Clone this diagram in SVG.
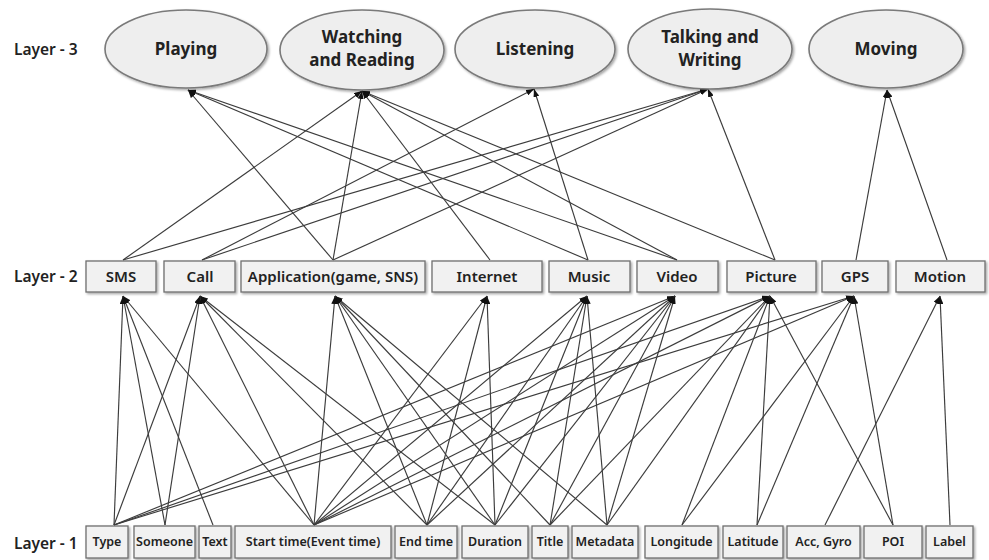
<svg xmlns="http://www.w3.org/2000/svg" width="989" height="560" viewBox="0 0 989 560">
  <style>
    .bg { fill: #ffffff; }
    .ell { fill: #eeeeee; stroke: #7a7a7a; stroke-width: 1.6; filter: url(#shadow); }
    .box { fill: #f1f1f1; stroke: #6f6f6f; stroke-width: 1.3; filter: url(#shadow); }
    .t3 { font-family: "Noto Sans", "Open Sans", sans-serif; font-weight: 700; font-size: 17px; fill: #222; text-anchor: middle; }
    .t2 { font-family: "Noto Sans", "Open Sans", sans-serif; font-weight: 600; font-size: 15px; fill: #222; text-anchor: middle; }
    .t1 { font-family: "Noto Sans", "Open Sans", sans-serif; font-weight: 600; font-size: 12.5px; fill: #222; text-anchor: middle; }
    .lay { font-family: "Noto Sans", "Open Sans", sans-serif; font-weight: 600; font-size: 15.5px; fill: #222; }
    .edge { stroke: #3c3c3c; stroke-width: 1.15; fill: none; marker-end: url(#arrow); }
  </style>
  <defs>
    <filter id="shadow" x="-10%" y="-10%" width="130%" height="140%">
      <feDropShadow dx="1.5" dy="1.5" stdDeviation="1" flood-color="#000" flood-opacity="0.35"/>
    </filter>
    <marker id="arrow" viewBox="0 0 8 6" refX="8" refY="3" markerWidth="8" markerHeight="6" markerUnits="userSpaceOnUse" orient="auto">
      <path d="M0,0 L8,3 L0,6 z" fill="#111"/>
    </marker>
  </defs>

  <rect class="bg" x="0" y="0" width="989" height="560"/>

  <!-- layer captions -->
  <text class="lay" x="14" y="55">Layer - 3</text>
  <text class="lay" x="14" y="282">Layer - 2</text>
  <text class="lay" x="14" y="549">Layer - 1</text>

  <!-- connectors: lower layer to upper layer, arrowhead at the upper node -->
  <g id="connectors">
    <!-- layer 2 -> layer 3 -->
    <line class="edge" x1="333" y1="260" x2="188" y2="90"/>
    <line class="edge" x1="588" y1="260" x2="188" y2="90"/>
    <line class="edge" x1="677" y1="260" x2="188" y2="90"/>
    <line class="edge" x1="123" y1="260" x2="362" y2="91"/>
    <line class="edge" x1="333" y1="260" x2="362" y2="91"/>
    <line class="edge" x1="490" y1="260" x2="362" y2="91"/>
    <line class="edge" x1="677" y1="260" x2="362" y2="91"/>
    <line class="edge" x1="775" y1="260" x2="362" y2="91"/>
    <line class="edge" x1="202" y1="260" x2="534" y2="89"/>
    <line class="edge" x1="588" y1="260" x2="534" y2="89"/>
    <line class="edge" x1="123" y1="260" x2="708" y2="89"/>
    <line class="edge" x1="202" y1="260" x2="708" y2="89"/>
    <line class="edge" x1="333" y1="260" x2="708" y2="89"/>
    <line class="edge" x1="775" y1="260" x2="708" y2="89"/>
    <line class="edge" x1="856" y1="260" x2="887" y2="90"/>
    <line class="edge" x1="947" y1="260" x2="887" y2="90"/>

    <!-- layer 1 -> layer 2 : Type -->
    <line class="edge" x1="114" y1="525" x2="123" y2="296"/>
    <line class="edge" x1="114" y1="525" x2="200" y2="296"/>
    <line class="edge" x1="114" y1="525" x2="675" y2="296"/>
    <line class="edge" x1="114" y1="525" x2="770" y2="296"/>
    <line class="edge" x1="114" y1="525" x2="854" y2="296"/>
    <!-- Someone -->
    <line class="edge" x1="165" y1="525" x2="123" y2="296"/>
    <line class="edge" x1="165" y1="525" x2="200" y2="296"/>
    <!-- Text -->
    <line class="edge" x1="213" y1="525" x2="123" y2="296"/>
    <!-- Start time -->
    <line class="edge" x1="314" y1="525" x2="123" y2="296"/>
    <line class="edge" x1="314" y1="525" x2="200" y2="296"/>
    <line class="edge" x1="314" y1="525" x2="335" y2="296"/>
    <line class="edge" x1="314" y1="525" x2="487" y2="296"/>
    <line class="edge" x1="314" y1="525" x2="587" y2="296"/>
    <line class="edge" x1="314" y1="525" x2="675" y2="296"/>
    <line class="edge" x1="314" y1="525" x2="770" y2="296"/>
    <line class="edge" x1="314" y1="525" x2="854" y2="296"/>
    <!-- End time -->
    <line class="edge" x1="427" y1="525" x2="200" y2="296"/>
    <line class="edge" x1="427" y1="525" x2="335" y2="296"/>
    <line class="edge" x1="427" y1="525" x2="487" y2="296"/>
    <line class="edge" x1="427" y1="525" x2="587" y2="296"/>
    <line class="edge" x1="427" y1="525" x2="675" y2="296"/>
    <!-- Duration -->
    <line class="edge" x1="495" y1="525" x2="200" y2="296"/>
    <line class="edge" x1="495" y1="525" x2="335" y2="296"/>
    <line class="edge" x1="495" y1="525" x2="487" y2="296"/>
    <line class="edge" x1="495" y1="525" x2="587" y2="296"/>
    <line class="edge" x1="495" y1="525" x2="675" y2="296"/>
    <!-- Title -->
    <line class="edge" x1="550" y1="525" x2="335" y2="296"/>
    <line class="edge" x1="550" y1="525" x2="587" y2="296"/>
    <line class="edge" x1="550" y1="525" x2="675" y2="296"/>
    <line class="edge" x1="550" y1="525" x2="770" y2="296"/>
    <!-- Metadata -->
    <line class="edge" x1="607" y1="525" x2="335" y2="296"/>
    <line class="edge" x1="607" y1="525" x2="587" y2="296"/>
    <line class="edge" x1="607" y1="525" x2="675" y2="296"/>
    <line class="edge" x1="607" y1="525" x2="770" y2="296"/>
    <!-- Longitude / Latitude -->
    <line class="edge" x1="682" y1="525" x2="770" y2="296"/>
    <line class="edge" x1="682" y1="525" x2="854" y2="296"/>
    <line class="edge" x1="757" y1="525" x2="770" y2="296"/>
    <line class="edge" x1="757" y1="525" x2="854" y2="296"/>
    <!-- Acc, Gyro / POI / Label -->
    <line class="edge" x1="825" y1="525" x2="940" y2="296"/>
    <line class="edge" x1="893" y1="525" x2="770" y2="296"/>
    <line class="edge" x1="893" y1="525" x2="854" y2="296"/>
    <line class="edge" x1="950" y1="525" x2="940" y2="296"/>
  </g>

  <!-- layer 3 -->
  <g id="n-playing"><ellipse class="ell" cx="186" cy="49" rx="81" ry="39"/><text class="t3" x="186" y="55">Playing</text></g>
  <g id="n-watching"><ellipse class="ell" cx="362" cy="50" rx="82" ry="40"/><text class="t3" x="362" y="43">Watching</text><text class="t3" x="362" y="66">and Reading</text></g>
  <g id="n-listening"><ellipse class="ell" cx="535" cy="49" rx="80" ry="39"/><text class="t3" x="535" y="55">Listening</text></g>
  <g id="n-talking"><ellipse class="ell" cx="710" cy="49" rx="82" ry="40"/><text class="t3" x="710" y="43">Talking and</text><text class="t3" x="710" y="66">Writing</text></g>
  <g id="n-moving"><ellipse class="ell" cx="886" cy="49" rx="77" ry="39"/><text class="t3" x="886" y="55">Moving</text></g>

  <!-- layer 2 -->
  <g id="n-sms"><rect class="box" x="86" y="261" width="70" height="31"/><text class="t2" x="121" y="282">SMS</text></g>
  <g id="n-call"><rect class="box" x="164" y="261" width="71" height="31"/><text class="t2" x="200" y="282">Call</text></g>
  <g id="n-app"><rect class="box" x="241" y="261" width="184" height="31"/><text class="t2" x="333" y="282">Application(game, SNS)</text></g>
  <g id="n-internet"><rect class="box" x="432" y="261" width="110" height="31"/><text class="t2" x="487" y="282">Internet</text></g>
  <g id="n-music"><rect class="box" x="549" y="261" width="81" height="31"/><text class="t2" x="589" y="282">Music</text></g>
  <g id="n-video"><rect class="box" x="637" y="261" width="81" height="31"/><text class="t2" x="677" y="282">Video</text></g>
  <g id="n-picture"><rect class="box" x="727" y="261" width="89" height="31"/><text class="t2" x="771" y="282">Picture</text></g>
  <g id="n-gps"><rect class="box" x="822" y="261" width="66" height="31"/><text class="t2" x="855" y="282">GPS</text></g>
  <g id="n-motion"><rect class="box" x="896" y="261" width="89" height="31"/><text class="t2" x="940" y="282">Motion</text></g>

  <!-- layer 1 -->
  <g id="n-type"><rect class="box" x="86" y="526" width="42" height="32"/><text class="t1" x="107" y="546">Type</text></g>
  <g id="n-someone"><rect class="box" x="134" y="526" width="61" height="32"/><text class="t1" x="164.5" y="546">Someone</text></g>
  <g id="n-text"><rect class="box" x="199" y="526" width="32" height="32"/><text class="t1" x="215" y="546">Text</text></g>
  <g id="n-start"><rect class="box" x="235" y="526" width="156" height="32"/><text class="t1" x="313" y="546">Start time(Event time)</text></g>
  <g id="n-end"><rect class="box" x="395" y="526" width="62" height="32"/><text class="t1" x="426" y="546">End time</text></g>
  <g id="n-duration"><rect class="box" x="462" y="526" width="66" height="32"/><text class="t1" x="495" y="546">Duration</text></g>
  <g id="n-title"><rect class="box" x="532" y="526" width="36" height="32"/><text class="t1" x="550" y="546">Title</text></g>
  <g id="n-metadata"><rect class="box" x="572" y="526" width="66" height="32"/><text class="t1" x="605" y="546">Metadata</text></g>
  <g id="n-longitude"><rect class="box" x="645" y="526" width="73" height="32"/><text class="t1" x="681.5" y="546">Longitude</text></g>
  <g id="n-latitude"><rect class="box" x="723" y="526" width="60" height="32"/><text class="t1" x="753" y="546">Latitude</text></g>
  <g id="n-accgyro"><rect class="box" x="787" y="526" width="73" height="32"/><text class="t1" x="823.5" y="546">Acc, Gyro</text></g>
  <g id="n-poi"><rect class="box" x="864" y="526" width="58" height="32"/><text class="t1" x="893" y="546">POI</text></g>
  <g id="n-label"><rect class="box" x="926" y="526" width="47" height="32"/><text class="t1" x="949.5" y="546">Label</text></g>
</svg>
